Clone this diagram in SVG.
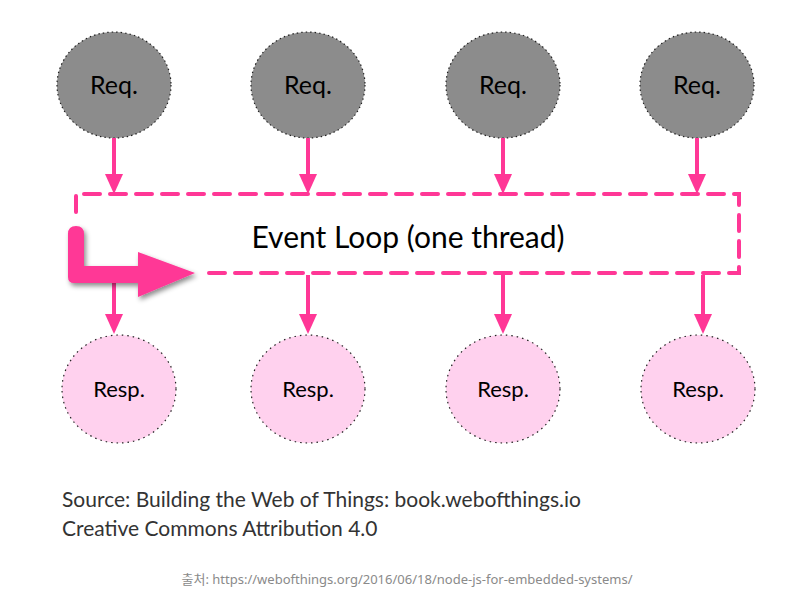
<svg xmlns="http://www.w3.org/2000/svg" width="795" height="592" viewBox="0 0 795 592">
<defs>
<style>
.req{fill:#8c8c8c;stroke:#222;stroke-width:1.2;stroke-dasharray:1.5 3}
.resp{fill:#ffd1ee;stroke:#222;stroke-width:1.2;stroke-dasharray:1.5 4}
.lbl{font-family:Lato,"Open Sans",sans-serif;font-size:25px;fill:#000;text-anchor:middle}
.rl{font-family:Lato,"Open Sans",sans-serif;font-size:22px;fill:#000;text-anchor:middle}
.conn{stroke:#ff3796;stroke-width:4;fill:none}
.loop{stroke:#ff3796;stroke-width:4;fill:none;stroke-dasharray:16 10;stroke-linecap:round}
.src{font-family:Lato,"Open Sans",sans-serif;font-size:21px;fill:#333}
</style>
<filter id="sh" x="-20%" y="-20%" width="150%" height="150%"><feDropShadow dx="2" dy="3" stdDeviation="2.5" flood-color="#000" flood-opacity="0.45"/></filter>
</defs>
<rect width="795" height="592" fill="#fff"/>
<g id="req1"><ellipse class="req" cx="114" cy="85" rx="57" ry="53"/><text class="lbl" x="114" y="94">Req.</text></g>
<g id="req2"><ellipse class="req" cx="308" cy="85" rx="57" ry="53"/><text class="lbl" x="308" y="94">Req.</text></g>
<g id="req3"><ellipse class="req" cx="503" cy="85" rx="57" ry="53"/><text class="lbl" x="503" y="94">Req.</text></g>
<g id="req4"><ellipse class="req" cx="697" cy="85" rx="57" ry="53"/><text class="lbl" x="697" y="94">Req.</text></g>
<g id="loop">
<path class="loop" d="M76,212 L76,194 L739,194 L739,273 L205,273"/>
<text x="408" y="248" font-family="Lato,'Open Sans',sans-serif" font-size="30" text-anchor="middle" fill="#000">Event Loop (one thread)</text>
</g>
<g id="resp1"><ellipse class="resp" cx="119" cy="389" rx="57" ry="54"/><text class="rl" x="119" y="397">Resp.</text></g>
<g id="resp2"><ellipse class="resp" cx="308" cy="389" rx="57" ry="54"/><text class="rl" x="308" y="397">Resp.</text></g>
<g id="resp3"><ellipse class="resp" cx="503" cy="389" rx="57" ry="54"/><text class="rl" x="503" y="397">Resp.</text></g>
<g id="resp4"><ellipse class="resp" cx="698" cy="389" rx="57" ry="54"/><text class="rl" x="698" y="397">Resp.</text></g>
<g id="connectors">
<path class="conn" d="M114,138 L114,174" /><path d="M105,174 L123,174 L114,194 z" fill="#ff3796"/>
<path class="conn" d="M308,138 L308,174" /><path d="M299,174 L317,174 L308,194 z" fill="#ff3796"/>
<path class="conn" d="M503,138 L503,174" /><path d="M494,174 L512,174 L503,194 z" fill="#ff3796"/>
<path class="conn" d="M697,138 L697,174" /><path d="M688,174 L706,174 L697,194 z" fill="#ff3796"/>
<path class="conn" d="M114,275 L114,314" /><path d="M105,314 L123,314 L114,334 z" fill="#ff3796"/>
<path class="conn" d="M308,275 L308,314" /><path d="M299,314 L317,314 L308,334 z" fill="#ff3796"/>
<path class="conn" d="M503,275 L503,314" /><path d="M494,314 L512,314 L503,334 z" fill="#ff3796"/>
<path class="conn" d="M703,275 L703,314" /><path d="M694,314 L712,314 L703,334 z" fill="#ff3796"/>
<path filter="url(#sh)" fill="#ff3796" d="M68,234 Q68,226 76,226 Q84,226 84,234 L84,266 L138,266 L138,252 L195,273 L138,297 L138,283 L74,283 Q68,283 68,277 Z"/>
</g>
<text class="src" x="62" y="507">Source: Building the Web of Things: book.webofthings.io</text>
<text class="src" x="62" y="536">Creative Commons Attribution 4.0</text>
<text x="407" y="584" font-family="'Noto Sans','Noto Sans CJK KR',sans-serif" font-size="13" fill="#8a8a8a" text-anchor="middle">출처: https://webofthings.org/2016/06/18/node-js-for-embedded-systems/</text>
</svg>
